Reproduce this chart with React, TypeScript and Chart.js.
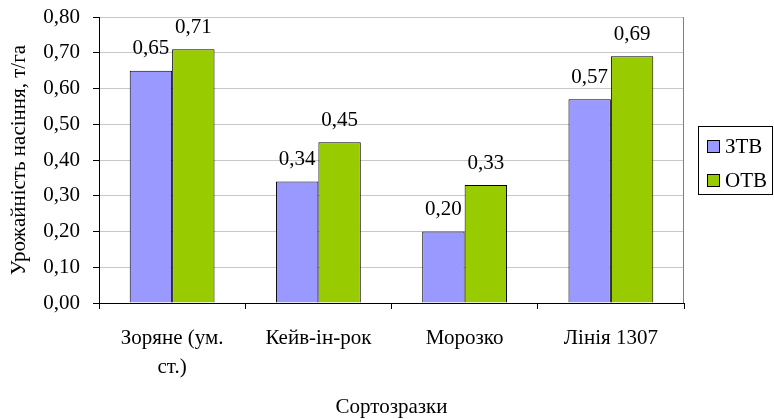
import React, { useEffect, useRef } from "react";
import { Chart, registerables } from "chart.js";

Chart.register(...registerables);

const categories: (string | string[])[] = [["Зоряне (ум.", "ст.)"], "Кейв-ін-рок", "Морозко", "Лінія 1307"];
const seriesNames = ["ЗТВ", "ОТВ"];
const ztvValues = [0.65, 0.34, 0.2, 0.57];
const otvValues = [0.71, 0.45, 0.33, 0.69];
const seriesColors = ["#9999FF", "#99CC00"];
const yMin = 0;
const yMax = 0.8;
const yStep = 0.1;
const yTitle = "Урожайність насіння, т/га";
const xTitle = "Сортозразки";

const FONT = "'Liberation Serif', 'Times New Roman', serif";
const FS = 21;

const fmt = (v: number) => v.toFixed(2).replace(".", ",");

const dataLabelsPlugin = {
  id: "dataLabels",
  afterDatasetsDraw(chart: any) {
    const ctx = chart.ctx;
    ctx.save();
    ctx.font = `${FS}px ${FONT}`;
    ctx.fillStyle = "#000";
    ctx.textAlign = "center";
    ctx.textBaseline = "middle";
    chart.data.datasets.forEach((ds: any, i: number) => {
      const meta = chart.getDatasetMeta(i);
      meta.data.forEach((el: any, j: number) => {
        ctx.fillText(fmt(ds.data[j]), el.x, el.y - 22);
      });
    });
    ctx.restore();
  },
};

const frameAndLegendPlugin = {
  id: "frameAndLegend",
  afterDraw(chart: any) {
    const ctx = chart.ctx;
    const a = chart.chartArea;
    ctx.save();
    ctx.strokeStyle = "#808080";
    ctx.lineWidth = 1;
    ctx.beginPath();
    ctx.moveTo(Math.round(a.right) - 0.5, a.top);
    ctx.lineTo(Math.round(a.right) - 0.5, a.bottom);
    ctx.stroke();

    const cy = (a.top + a.bottom) / 2;
    const left = Math.round(a.right) + 14;
    const width = 74;
    const height = 68;
    const top = Math.round(cy - height / 2);
    ctx.strokeStyle = "#000";
    ctx.strokeRect(left + 0.5, top + 0.5, width, height);
    ctx.font = `${FS}px ${FONT}`;
    ctx.textAlign = "left";
    ctx.textBaseline = "middle";
    chart.data.datasets.forEach((ds: any, i: number) => {
      const y = top + 20 + i * 34;
      ctx.fillStyle = ds.backgroundColor;
      ctx.fillRect(left + 9, y - 6, 12, 12);
      ctx.strokeStyle = "#000";
      ctx.strokeRect(left + 9.5, y - 5.5, 12, 12);
      ctx.fillStyle = "#000";
      ctx.fillText(ds.label, left + 27, y + 1);
    });
    ctx.restore();
  },
};

export default function App() {
  const canvasRef = useRef<HTMLCanvasElement | null>(null);

  useEffect(() => {
    if (!canvasRef.current) return;
    const chart = new Chart(canvasRef.current, {
      type: "bar",
      data: {
        labels: categories,
        datasets: [
          {
            label: seriesNames[0],
            data: ztvValues,
            backgroundColor: seriesColors[0],
            borderColor: "#000",
            borderWidth: 1,
            categoryPercentage: 0.58,
            barPercentage: 1.0,
          },
          {
            label: seriesNames[1],
            data: otvValues,
            backgroundColor: seriesColors[1],
            borderColor: "#000",
            borderWidth: 1,
            categoryPercentage: 0.58,
            barPercentage: 1.0,
          },
        ],
      },
      options: {
        responsive: false,
        animation: false,
        layout: { padding: { top: 17, right: 90, bottom: 0, left: 0 } },
        plugins: {
          legend: { display: false },
          tooltip: { enabled: false },
        },
        scales: {
          x: {
            offset: true,
            grid: {
              offset: true,
              drawOnChartArea: false,
              drawTicks: true,
              tickLength: 6,
              tickColor: "#000",
            },
            border: { color: "#000", width: 1 },
            ticks: {
              color: "#000",
              font: { family: FONT, size: FS, lineHeight: 1.38 },
              padding: 15,
              maxRotation: 0,
              autoSkip: false,
            },
            title: {
              display: true,
              text: xTitle,
              color: "#000",
              font: { family: FONT, size: FS, lineHeight: 1.05 },
              padding: { top: 0, bottom: 0 },
            },
            afterFit(scale: any) {
              scale.height = 116;
              scale.paddingLeft = 0;
              scale.paddingRight = 0;
            },
          },
          y: {
            min: yMin,
            max: yMax,
            ticks: {
              stepSize: yStep,
              color: "#000",
              font: { family: FONT, size: FS },
              padding: 13,
              callback: (v: any) => fmt(Number(v)),
            },
            grid: {
              color: "#C8C8C8",
              tickColor: "#000",
              tickLength: 6,
            },
            border: { color: "#000", width: 1 },
            title: {
              display: true,
              text: yTitle,
              color: "#000",
              font: { family: FONT, size: FS, lineHeight: 1.2 },
              padding: { top: 7, bottom: 0 },
            },
            afterFit(scale: any) {
              scale.width = 99;
              scale.paddingTop = 0;
              scale.paddingBottom = 0;
            },
          },
        },
      },
      plugins: [dataLabelsPlugin, frameAndLegendPlugin],
    });
    return () => chart.destroy();
  }, []);

  return (
    <div style={{ position: "absolute", left: 0, top: 0, width: 774, height: 419, background: "#fff" }}>
      <canvas ref={canvasRef} width={774} height={419} style={{ display: "block" }} />
    </div>
  );
}
